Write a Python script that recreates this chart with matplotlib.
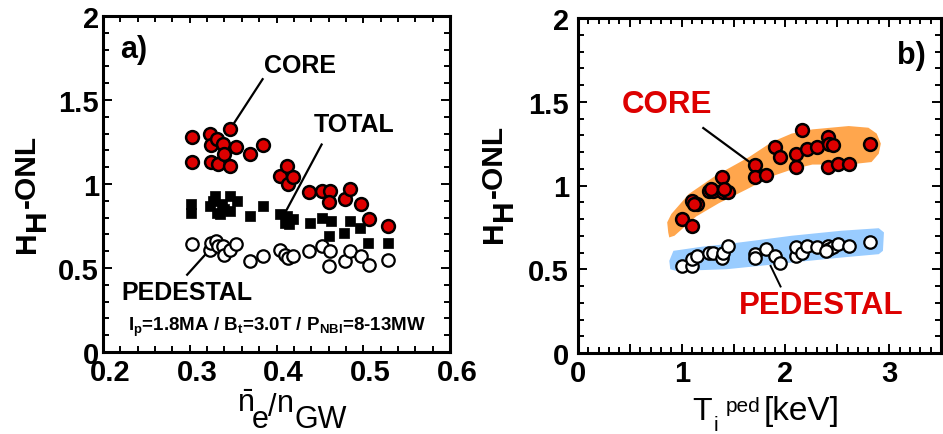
import matplotlib
matplotlib.use("Agg")
import matplotlib.pyplot as plt
from matplotlib.ticker import MultipleLocator, FuncFormatter
import matplotlib.transforms as mtransforms

plt.rcParams['font.family'] = ['Liberation Sans', 'DejaVu Sans']
plt.rcParams['mathtext.fontset'] = 'custom'
plt.rcParams['mathtext.rm'] = 'Liberation Sans'
plt.rcParams['mathtext.bf'] = 'Liberation Sans:bold'
plt.rcParams['mathtext.it'] = 'Liberation Sans:italic'

# ---------------- data: panel a ----------------
core_a_x = [0.303, 0.303, 0.323, 0.325, 0.325, 0.331, 0.332, 0.338, 0.340, 0.346, 0.346,
            0.353, 0.369, 0.384, 0.404, 0.412, 0.413, 0.419, 0.438, 0.452, 0.462, 0.460,
            0.479, 0.485, 0.497, 0.507, 0.528]
core_a_y = [1.28, 1.13, 1.30, 1.23, 1.13, 1.27, 1.12, 1.24, 1.18, 1.33, 1.11,
            1.22, 1.18, 1.23, 1.05, 1.11, 1.00, 1.04, 0.95, 0.96, 0.96, 0.89,
            0.91, 0.97, 0.88, 0.79, 0.75]
total_a_x = [0.302, 0.302, 0.323, 0.327, 0.329, 0.331, 0.335, 0.337, 0.340, 0.346, 0.346,
             0.354, 0.369, 0.384, 0.404, 0.410, 0.412, 0.414, 0.419, 0.439, 0.452, 0.460,
             0.463, 0.478, 0.485, 0.496, 0.506, 0.528]
total_a_y = [0.88, 0.83, 0.87, 0.90, 0.93, 0.83, 0.82, 0.88, 0.85, 0.93, 0.84,
             0.90, 0.81, 0.87, 0.82, 0.77, 0.81, 0.76, 0.79, 0.77, 0.80, 0.69,
             0.78, 0.71, 0.78, 0.74, 0.65, 0.65]
ped_a_x = [0.303, 0.323, 0.325, 0.330, 0.332, 0.338, 0.339, 0.346, 0.353, 0.369, 0.384,
           0.404, 0.410, 0.413, 0.419, 0.438, 0.452, 0.462, 0.460, 0.479, 0.485, 0.497,
           0.507, 0.528]
ped_a_y = [0.64, 0.61, 0.65, 0.66, 0.63, 0.63, 0.58, 0.61, 0.64, 0.54, 0.57,
           0.61, 0.58, 0.56, 0.57, 0.60, 0.63, 0.60, 0.51, 0.54, 0.60, 0.57,
           0.52, 0.55]

# ---------------- data: panel b ----------------
core_b_x = [1.00, 1.10, 1.10, 1.15, 1.26, 1.30, 1.39, 1.40, 1.45, 1.71, 1.71, 1.81,
            1.90, 1.95, 2.10, 2.10, 2.16, 2.21, 2.30, 2.41, 2.42, 2.46, 2.41, 2.51,
            2.61, 2.82, 1.12, 1.28, 1.41]
core_b_y = [0.80, 0.76, 0.91, 0.89, 0.97, 0.97, 1.05, 0.96, 0.96, 1.12, 1.05, 1.06,
            1.23, 1.17, 1.19, 1.11, 1.33, 1.22, 1.23, 1.29, 1.25, 1.24, 1.11, 1.13,
            1.13, 1.25, 0.89, 0.98, 0.98]
ped_b_x = [1.00, 1.10, 1.10, 1.15, 1.26, 1.30, 1.39, 1.40, 1.45, 1.71, 1.71, 1.81,
           1.90, 1.95, 2.10, 2.10, 2.16, 2.21, 2.30, 2.41, 2.42, 2.46, 2.39, 2.51,
           2.61, 2.82]
ped_b_y = [0.52, 0.52, 0.56, 0.58, 0.60, 0.60, 0.57, 0.60, 0.64, 0.59, 0.57, 0.62,
           0.58, 0.54, 0.58, 0.63, 0.60, 0.64, 0.63, 0.64, 0.62, 0.63, 0.61, 0.65,
           0.64, 0.66]

# hand-drawn trend bands (outlines)
band_core_x = [0.87, 0.86, 0.90, 1.07, 1.33, 1.65, 1.87, 2.06, 2.26, 2.61, 2.80, 2.88,
               2.92, 2.90, 2.83, 2.61, 2.26, 2.06, 1.87, 1.62, 1.36, 1.14, 0.93, 0.88]
band_core_y = [0.72, 0.78, 0.83, 0.95, 1.06, 1.17, 1.26, 1.31, 1.335, 1.355, 1.345, 1.31,
               1.25, 1.19, 1.14, 1.125, 1.125, 1.095, 1.055, 0.975, 0.895, 0.815, 0.70, 0.69]
band_ped_x = [0.88, 0.92, 1.20, 1.43, 1.75, 2.06, 2.54, 2.90, 2.95, 2.94, 2.90, 2.54,
              2.06, 1.75, 1.43, 1.20, 0.95, 0.89]
band_ped_y = [0.55, 0.61, 0.635, 0.65, 0.675, 0.70, 0.73, 0.745, 0.72, 0.61, 0.59, 0.57,
              0.54, 0.52, 0.50, 0.495, 0.49, 0.50]

RED = '#dd0000'
ORANGE = '#ffa64d'
BLUE = '#99ccff'

W, H = 943, 435
fig = plt.figure(figsize=(W / 100, H / 100), dpi=100)

axa = fig.add_axes([103 / W, 1 - 353 / H, 347 / W, 336 / H])
axb = fig.add_axes([578 / W, 1 - 354 / H, 363 / W, 335 / H])

fmt = FuncFormatter(lambda v, p: ('%g' % round(v, 3)))


def style(ax, tick_pad_x, tick_pad_y):
    for s in ax.spines.values():
        s.set_linewidth(2.2)
    ax.tick_params(which='both', direction='in', top=True, right=True, width=1.4)
    ax.tick_params(which='major', length=6.5)
    ax.tick_params(which='minor', length=4)
    ax.tick_params(axis='x', which='major', pad=tick_pad_x, labelsize=21)
    ax.tick_params(axis='y', which='major', pad=tick_pad_y, labelsize=21)
    for lab in ax.get_xticklabels() + ax.get_yticklabels():
        lab.set_fontweight('bold')


# ---------------- panel a ----------------
axa.set_xlim(0.2, 0.6)
axa.set_ylim(0, 2)
axa.xaxis.set_major_locator(MultipleLocator(0.1))
axa.xaxis.set_minor_locator(MultipleLocator(0.02))
axa.yaxis.set_major_locator(MultipleLocator(0.5))
axa.yaxis.set_minor_locator(MultipleLocator(0.1))
axa.xaxis.set_major_formatter(fmt)
axa.yaxis.set_major_formatter(fmt)
style(axa, 4, 3)
axa.tick_params(axis='x', which='major', length=5)
off = mtransforms.ScaledTranslation(7 / 100, 0, fig.dpi_scale_trans)
for lab in axa.get_xticklabels():
    lab.set_transform(lab.get_transform() + off)

axa.scatter(ped_a_x, ped_a_y, s=80, marker='o', facecolor='white', edgecolor='black',
            linewidth=1.6, zorder=3)
axa.scatter(total_a_x, total_a_y, s=42, marker='s', facecolor='black', edgecolor='black',
            linewidth=0.5, zorder=3)
axa.scatter(core_a_x, core_a_y, s=85, marker='o', facecolor=RED, edgecolor='black',
            linewidth=1.8, zorder=4)

axa.plot([0.384, 0.350], [1.624, 1.354], color='black', lw=1.6, zorder=2)
axa.plot([0.452, 0.410], [1.235, 0.83], color='black', lw=1.6, zorder=2)
axa.plot([0.297, 0.323], [0.46, 0.609], color='black', lw=1.6, zorder=2)

axa.text(0.427, 1.71, 'CORE', fontsize=18, fontweight='bold', ha='center', va='center')
axa.text(0.489, 1.36, 'TOTAL', fontsize=18, fontweight='bold', ha='center', va='center')
axa.text(0.2965, 0.355, 'PEDESTAL', fontsize=18, fontweight='bold', ha='center', va='center')
axa.text(0.2196, 1.755, 'a)', fontsize=22, fontweight='bold', ha='left', va='baseline')
axa.text(0.401, 0.131,
         r'I$_\mathbf{p}$=1.8MA / B$_\mathbf{t}$=3.0T / P$_\mathbf{NBI}$=8-13MW',
         fontsize=13.5, fontweight='bold', ha='center', va='baseline')

# ---------------- panel b ----------------
axb.set_xlim(0, 3.5)
axb.set_ylim(0, 2)
axb.xaxis.set_major_locator(MultipleLocator(0.5))
axb.xaxis.set_minor_locator(MultipleLocator(0.1))
axb.yaxis.set_major_locator(MultipleLocator(0.5))
axb.yaxis.set_minor_locator(MultipleLocator(0.1))
axb.xaxis.set_major_formatter(FuncFormatter(lambda v, p: ('%d' % round(v)) if abs(v - round(v)) < 1e-6 else ''))
axb.yaxis.set_major_formatter(fmt)
style(axb, 4, 6.5)

axb.fill(band_core_x, band_core_y, color=ORANGE, lw=0, zorder=1)
axb.fill(band_ped_x, band_ped_y, color=BLUE, lw=0, zorder=1)
axb.plot([1.208, 1.665], [1.343, 1.135], color='black', lw=1.6, zorder=2)
axb.plot([1.857, 1.953], [0.52, 0.397], color='black', lw=1.4, zorder=2)
axb.scatter(core_b_x, core_b_y, s=85, marker='o', facecolor=RED, edgecolor='black',
            linewidth=1.8, zorder=4)
axb.scatter(ped_b_x, ped_b_y, s=80, marker='o', facecolor='white', edgecolor='black',
            linewidth=1.6, zorder=4)
axb.text(0.86, 1.487, 'CORE', fontsize=22.5, fontweight='bold', color=RED, ha='center', va='center')
axb.text(2.344, 0.287, 'PEDESTAL', fontsize=22.5, fontweight='bold', color=RED, ha='center', va='center')
axb.text(3.356, 1.732, 'b)', fontsize=22, fontweight='bold', ha='right', va='baseline')


# ---------------- axis labels (pieces, pixel positions) ----------------
def ftext(x, y, s, **kw):
    return fig.text(x / W, 1 - y / H, s, **kw)


# left x label: n̄_e / n_GW
ftext(237, 412, r'$\bar{\mathrm{n}}$', fontsize=22, ha='left', va='baseline')
ftext(252, 428, 'e', fontsize=22, ha='left', va='baseline')
ftext(268, 416, '/', fontsize=22, ha='left', va='baseline')
ftext(277, 412, 'n', fontsize=22, ha='left', va='baseline')
ftext(295, 428, 'GW', fontsize=22, ha='left', va='baseline')

# right x label: T_i ped [keV]
ftext(692, 420, 'T', fontsize=23, ha='left', va='baseline')
ftext(714, 431, 'i', fontsize=15, ha='left', va='baseline')
ftext(726, 412, 'ped', fontsize=15, ha='left', va='baseline')
ftext(764, 420, '[keV]', fontsize=24, ha='left', va='baseline')

# y labels: H_H-ONL
for bx, by in [(35, 253), (502, 243)]:
    kw = dict(fontsize=21.5, fontweight='bold', rotation=90, rotation_mode='anchor',
              ha='left', va='baseline')
    ftext(bx, by, 'H', **kw)
    ftext(bx + 10, by - 22, 'H', **kw)
    ftext(bx, by - 45, '-ONL', **kw)

fig.savefig('out.png', dpi=100)
